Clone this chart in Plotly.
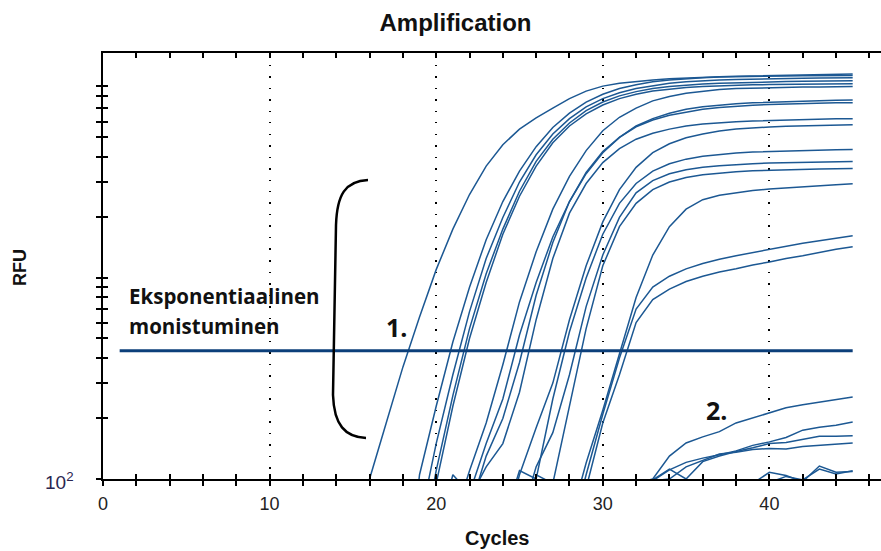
import plotly.graph_objects as go

# ---------------- data ----------------
cycles = list(range(1, 46))

threshold_cycles = [1, 45]
threshold_rfu = [435, 435]

# amplification curves: first cycle + RFU values per cycle
a1_start = 15
a1 = [25, 100, 190, 360, 640, 1100, 1750, 2600, 3600, 4600, 5500, 6250, 7000, 7800, 8500,
      9000, 9300, 9500, 9650, 9800, 9900, 9980, 10030, 10080, 10130, 10180, 10220, 10260,
      10290, 10320, 10350]
b1_start = 18
b1 = [20, 105, 230, 480, 900, 1550, 2400, 3400, 4500, 5600, 6600, 7500, 8200, 8750, 9150,
      9450, 9650, 9800, 9900, 9980, 10030, 10070, 10100, 10120, 10140, 10150, 10160, 10170]
b2_start = 18
b2 = [15, 60, 150, 330, 680, 1250, 2000, 3000, 4100, 5200, 6200, 7100, 7800, 8350, 8750,
      9050, 9300, 9450, 9580, 9660, 9720, 9770, 9810, 9840, 9860, 9880, 9895, 9905]
b3_start = 18
b3 = [10, 40, 110, 260, 560, 1050, 1750, 2700, 3800, 4900, 5900, 6800, 7500, 8050, 8450,
      8750, 8950, 9100, 9220, 9300, 9360, 9410, 9450, 9480, 9510, 9530, 9550, 9560]
b4_start = 19
b4 = [30, 95, 230, 500, 950, 1650, 2550, 3600, 4700, 5700, 6550, 7250, 7800, 8200, 8500,
      8700, 8850, 8950, 9030, 9090, 9130, 9160, 9185, 9205, 9220, 9235, 9245]
c1_start = 21
c1 = [60, 110, 190, 370, 760, 1350, 2200, 3200, 4300, 5400, 6300, 7000, 7600, 8000, 8300,
      8500, 8650, 8750, 8800, 8850, 8880, 8900, 8920, 8940, 8960]
c2_start = 20
c2 = [50, 105, 85, 150, 250, 520, 950, 1600, 2400, 3300, 4200, 5000, 5700, 6200, 6600,
      6900, 7100, 7250, 7350, 7430, 7490, 7540, 7580, 7620, 7650, 7680]
c3_start = 22
c3 = [70, 130, 200, 380, 820, 1500, 2400, 3350, 4250, 5000, 5650, 6100, 6450, 6700, 6900,
      7050, 7150, 7230, 7290, 7340, 7380, 7410, 7430, 7450]
c4_start = 22
c4 = [80, 115, 150, 270, 620, 1250, 2100, 2950, 3750, 4400, 4900, 5250, 5500, 5700, 5830,
      5920, 5990, 6040, 6080, 6110, 6140, 6170, 6190, 6200]
d1_start = 24
d1 = [50, 105, 180, 300, 620, 1150, 1900, 2750, 3550, 4200, 4650, 4980, 5200, 5380, 5500,
      5580, 5640, 5690, 5720, 5750, 5770, 5790]
d2_start = 24
d2 = [60, 110, 100, 250, 540, 1000, 1650, 2350, 2950, 3400, 3700, 3900, 4030, 4120, 4180,
      4230, 4260, 4290, 4310, 4330, 4345, 4355]
d3_start = 25
d3 = [60, 115, 170, 330, 720, 1300, 2000, 2650, 3050, 3300, 3450, 3550, 3620, 3670, 3700,
      3730, 3750, 3770, 3780, 3790, 3800]
d4_start = 25
d4 = [50, 105, 95, 230, 560, 1150, 1800, 2350, 2750, 3000, 3160, 3260, 3330, 3380, 3410,
      3435, 3455, 3470, 3485, 3495, 3505]
e1_start = 28
e1 = [60, 120, 220, 420, 800, 1300, 1800, 2200, 2450, 2580, 2660, 2720, 2770, 2810, 2850,
      2880, 2910, 2940]
e2_start = 28
e2 = [50, 105, 210, 400, 700, 900, 1020, 1110, 1180, 1240, 1290, 1340, 1390, 1440, 1490,
      1530, 1575, 1620]
e3_start = 28
e3 = [40, 90, 190, 330, 600, 780, 880, 960, 1020, 1070, 1110, 1160, 1200, 1250, 1290,
      1340, 1390, 1430]
# late / non-specific curves ("2.")
n1_start = 32
n1 = [95, 100, 130, 151, 162, 172, 190, 201, 214, 226, 234, 241, 249, 256]
n2_start = 33
n2 = [98, 111, 121, 127, 132, 138, 147, 153, 161, 175, 181, 185, 192]
n3_start = 33
n3 = [99, 112, 100, 122, 130, 137, 143, 150, 152, 158, 163, 163, 164]
n4_start = 33
n4 = [98, 100, 115, 124, 133, 136, 140, 142, 141, 145, 147, 149, 151]
n5_start = 39
n5 = [95, 108, 104, 97, 116, 108, 109]
n6_start = 40
n6 = [96, 103, 99, 112, 106, 110]

y_tickvals = [100, 200, 300, 400, 500, 600, 700, 800, 900, 1000,
              2000, 3000, 4000, 5000, 6000, 7000, 8000, 9000]
x_tickvals = [0, 10, 20, 30, 40]
x_ticktext = ["0", "10", "20", "30", "40"]

# ---------------- figure ----------------
W, H = 881, 551
ML, MR, MT, MB = 103, 0, 53, 72
PW, PH = W - ML - MR, H - MT - MB


def px(xp):
    return (xp - ML) / PW


def py(yp):
    return (H - MB - yp) / PH


series = [(a1_start, a1), (b1_start, b1), (b2_start, b2), (b3_start, b3), (b4_start, b4),
          (c1_start, c1), (c2_start, c2), (c3_start, c3), (c4_start, c4),
          (d1_start, d1), (d2_start, d2), (d3_start, d3), (d4_start, d4),
          (e1_start, e1), (e2_start, e2), (e3_start, e3),
          (n1_start, n1), (n2_start, n2), (n3_start, n3), (n4_start, n4),
          (n5_start, n5), (n6_start, n6)]

CURVE = "#1c5893"
fig = go.Figure()
for start, vals in series:
    xs = cycles[start - 1:start - 1 + len(vals)]
    fig.add_trace(go.Scatter(x=xs, y=vals, mode="lines",
                             line=dict(color=CURVE, width=1.5),
                             showlegend=False, hoverinfo="skip"))

fig.add_trace(go.Scatter(x=threshold_cycles, y=threshold_rfu, mode="lines",
                         line=dict(color="#0c3f7a", width=3),
                         showlegend=False, hoverinfo="skip"))
# dummy trace to anchor the overlay axes
fig.add_trace(go.Scatter(x=[None], y=[None], xaxis="x2", yaxis="y2",
                         showlegend=False, hoverinfo="skip"))

FONT = "Liberation Sans, Arial, sans-serif"
xr = [0, 46.7]
yr = [2, 4.119]

fig.update_layout(
    width=W, height=H,
    margin=dict(l=ML, r=MR, t=MT, b=MB, pad=0),
    paper_bgcolor="white", plot_bgcolor="white",
    font=dict(family=FONT, color="#1a1a1a"),
    title=dict(text="<b>Amplification</b>", font=dict(size=24, family=FONT, color="#111"),
               x=455.5 / W, xanchor="center", xref="container",
               y=1 - 23 / H, yanchor="middle", yref="container"),
    xaxis=dict(range=xr, tickvals=x_tickvals, ticktext=x_ticktext,
               ticks="outside", ticklen=5, tickwidth=1.5, tickcolor="black",
               showline=True, linecolor="black", linewidth=1.5,
               showgrid=True, gridcolor="black", gridwidth=1.5, griddash="1.5px,10px",
               zeroline=False, automargin=False,
               tickfont=dict(size=18, family=FONT, color="#222"),
               ticklabelstandoff=3,
               minor=dict(tickmode="linear", tick0=0, dtick=2, ticks="outside",
                          ticklen=5, tickwidth=1.5, tickcolor="black", showgrid=False)),
    xaxis2=dict(range=xr, overlaying="x", anchor="y", side="bottom",
                tickmode="linear", tick0=0, dtick=2, ticks="inside", ticklen=5,
                tickwidth=1.5, tickcolor="black", mirror="ticks",
                showline=True, linecolor="black", linewidth=1.5,
                showticklabels=False, showgrid=False, zeroline=False, automargin=False),
    yaxis=dict(type="log", range=yr, tickvals=y_tickvals, ticks="outside",
               ticklen=5, tickwidth=1.5, tickcolor="black",
               showline=True, linecolor="black", linewidth=1.5,
               showticklabels=False, showgrid=False, zeroline=False, automargin=False),
    yaxis2=dict(type="log", range=yr, overlaying="y", anchor="x", side="left",
                tickvals=y_tickvals, ticks="inside", ticklen=5, tickwidth=1.5,
                tickcolor="black", showline=False, showticklabels=False,
                showgrid=False, zeroline=False, automargin=False),
)

# bracket "(" drawn in paper coordinates
bracket = (f"M {px(368)},{py(180)} C {px(345)},{py(181)} {px(337)},{py(195)} {px(336)},{py(225)} "
           f"L {px(333)},{py(395)} C {px(334)},{py(425)} {px(345)},{py(437)} {px(366)},{py(438)}")
fig.add_shape(type="path", path=bracket, xref="paper", yref="paper",
              line=dict(color="black", width=2.5))

SANS2 = "Open Sans, Lato, sans-serif"
ann = [
    dict(text="<b>Eksponentiaalinen</b>", x=px(127), y=py(296), xanchor="left",
         yanchor="middle", font=dict(size=20.5, family=SANS2, color="#111")),
    dict(text="<b>monistuminen</b>", x=px(127), y=py(326), xanchor="left",
         yanchor="middle", font=dict(size=20.5, family=SANS2, color="#111")),
    dict(text="<b>1.</b>", x=px(384), y=py(327), xanchor="left", yanchor="middle",
         font=dict(size=25, family=SANS2, color="#111")),
    dict(text="<b>2.</b>", x=px(704), y=py(410), xanchor="left", yanchor="middle",
         font=dict(size=25, family=SANS2, color="#111")),
    dict(text="<b>RFU</b>", x=px(20), y=py(268), xanchor="center", yanchor="middle",
         textangle=-90, font=dict(size=18, family=FONT, color="#111")),
    dict(text="<b>Cycles</b>", x=px(497), y=py(538), xanchor="center", yanchor="middle",
         font=dict(size=20, family=FONT, color="#111")),
    dict(text="10<sup>2</sup>", x=px(76), y=py(481), xanchor="right", yanchor="middle",
         font=dict(size=19, family=FONT, color="#2a2550")),
]
for a in ann:
    a.update(xref="paper", yref="paper", showarrow=False)
    fig.add_annotation(**a)

fig.write_html("out.html", config={"displayModeBar": False},
               post_script="document.body.style.margin='0';")
